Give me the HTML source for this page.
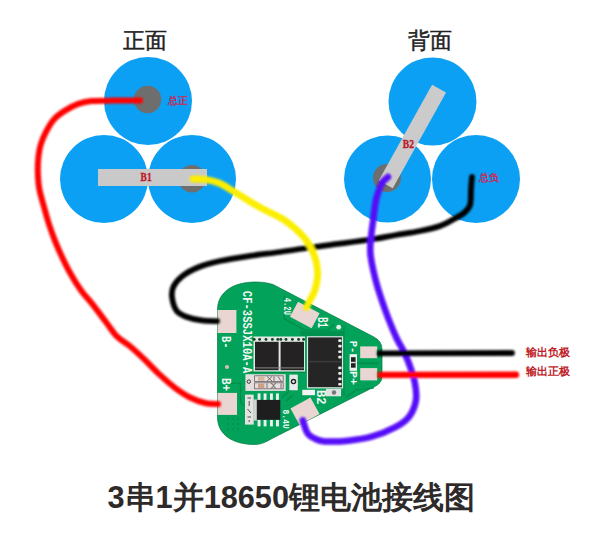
<!DOCTYPE html>
<html><head><meta charset="utf-8">
<style>
html,body{margin:0;padding:0;background:#fff;width:600px;height:540px;overflow:hidden}
svg{display:block}
text{font-family:"Liberation Sans",sans-serif}
.mono text{font-family:"Liberation Mono",monospace}
.serif{font-family:"Liberation Serif",serif}
</style></head><body>
<svg width="600" height="540" viewBox="0 0 600 540">
<defs>
<filter id="bl" x="-10%" y="-10%" width="120%" height="120%"><feGaussianBlur stdDeviation="0.9"/></filter>
</defs>
<text x="144.5" y="48.3" font-size="21.5" text-anchor="middle" fill="#222" stroke="#222" stroke-width="0.45">正面</text>
<text x="430.2" y="47.8" font-size="21.5" text-anchor="middle" fill="#222" stroke="#222" stroke-width="0.45">背面</text>

<g fill="#0ca0f4">
<circle cx="148" cy="101" r="44"/>
<circle cx="104" cy="179" r="44"/>
<circle cx="192" cy="179" r="44"/>
</g>
<circle cx="147.6" cy="99.5" r="13.7" fill="#6e6e6e"/>
<circle cx="192" cy="178.8" r="13.7" fill="#6e6e6e"/>
<rect x="98" y="169" width="109" height="17" fill="#c9c9c9"/>
<text x="140.6" y="181.3" font-size="11.5" font-weight="bold" fill="#bc1a2c" class="serif" stroke="#bc1a2c" stroke-width="0.35" textLength="11" lengthAdjust="spacingAndGlyphs">B1</text>
<text x="177.5" y="103.5" font-size="10" font-weight="bold" text-anchor="middle" fill="#c82858">总正</text>

<g fill="#0ca0f4">
<circle cx="432.5" cy="101.5" r="44"/>
<circle cx="387.5" cy="179" r="43.5"/>
<circle cx="476" cy="179" r="44"/>
</g>
<circle cx="387" cy="178" r="14" fill="#6e6e6e"/>
<rect x="-8" y="0" width="16" height="109.6" fill="#cbcbcb" transform="translate(439.05,88.7) rotate(29.1)"/>
<text x="402.8" y="148.3" font-size="11.5" font-weight="bold" fill="#bc1a2c" class="serif" stroke="#bc1a2c" stroke-width="0.35" textLength="11.2" lengthAdjust="spacingAndGlyphs">B2</text>
<text x="488.5" y="181" font-size="10" font-weight="bold" text-anchor="middle" fill="#c82858">总负</text>

<path d="M217.5,310 C217.5,292 233,282 256,282 C263,282 268,283 273,284.5 L373,336.5 Q382,341 382,349 L382,377 Q382,383 374,387 L272,438.5 C266,442 261,444.5 255,444.5 C233,444.5 217.5,435 217.5,417 Z" fill="#02a25a" stroke="#007a40" stroke-width="0.7"/>
<g fill="#00924e">
<path d="M300,331 L344,331 L344,336 L300,336 Z"/>
<path d="M356,362 L378,362 L378,364.5 L356,364.5 Z"/>
</g>
<g fill="none" stroke="#008a48" stroke-width="1.1">
<path d="M284.2,296 L284.2,318.7 L304.5,330 L328.5,330 L334,324.5"/>
<path d="M344,326.5 L344,396"/>
<path d="M230.8,383.2 L240.5,383.2 L240.5,402.5 L244,406"/>
<path d="M282,397.5 L289,391 L300,387.5"/>
<path d="M286,401 L293,395"/>
<path d="M243,372.5 L305,372.5"/>
<path d="M346,397 L356,390 L374,388"/>
</g>
<g fill="#007f40"><circle cx="228" cy="419" r="0.7"/><circle cx="233" cy="419" r="0.7"/><circle cx="238" cy="419" r="0.7"/><circle cx="228" cy="424" r="0.7"/><circle cx="233" cy="424" r="0.7"/><circle cx="238" cy="424" r="0.7"/><circle cx="228" cy="429" r="0.7"/><circle cx="233" cy="429" r="0.7"/><circle cx="238" cy="429" r="0.7"/><circle cx="358" cy="385" r="0.6"/><circle cx="363" cy="386" r="0.6"/><circle cx="368" cy="384" r="0.6"/><circle cx="360" cy="381" r="0.6"/><circle cx="366" cy="380" r="0.6"/><circle cx="372" cy="379" r="0.6"/></g>
<g fill="#e9d6d3">
<rect x="217.6" y="310" width="18.8" height="23" />
<rect x="217.6" y="392.9" width="19.4" height="22" />
<rect x="360.2" y="346.4" width="17" height="11.8" />
<rect x="360.2" y="368.1" width="17" height="12.3" />
<rect x="-12.3" y="-8.5" width="24.6" height="17" transform="translate(304.8,315) rotate(28.4)"/>
<rect x="-11.4" y="-9.4" width="22.8" height="18.8" transform="translate(305,411.3) rotate(-28.8)"/>
</g>
<rect x="253.5" y="336.5" width="51.5" height="35" fill="#e2e9e4"/>
<rect x="255" y="341.8" width="23.6" height="28.4" fill="#242222"/>
<rect x="280.6" y="341.8" width="23.4" height="28.4" fill="#242222"/>
<rect x="255" y="367.4" width="49" height="1" fill="#8a8a8a"/>
<g fill="#163d2a"><circle cx="254.2" cy="339.4" r="1.45"/><circle cx="259.6" cy="339.4" r="1.45"/><circle cx="266" cy="339.4" r="1.45"/><circle cx="272.4" cy="339.4" r="1.45"/><circle cx="277.8" cy="339.4" r="1.45"/><circle cx="280.8" cy="339.4" r="1.45"/><circle cx="286" cy="339.4" r="1.45"/><circle cx="292.4" cy="339.4" r="1.45"/><circle cx="298.6" cy="339.4" r="1.45"/><circle cx="303.6" cy="339.4" r="1.45"/></g>
<rect x="307.5" y="336.8" width="35" height="51" fill="#252525" stroke="#dce6e0" stroke-width="1.2"/>
<line x1="308" y1="361.6" x2="342" y2="361.6" stroke="#3a3a3a" stroke-width="1.6"/>
<g fill="#e6ece8"><rect x="338.2" y="339.2" width="3.4" height="2.7" rx="1"/><rect x="338.2" y="344.8" width="3.4" height="2.7" rx="1"/><rect x="338.2" y="350.4" width="3.4" height="2.7" rx="1"/><rect x="338.2" y="355.8" width="3.4" height="2.7" rx="1"/><rect x="338.2" y="366.6" width="3.4" height="2.7" rx="1"/><rect x="338.2" y="372.1" width="3.4" height="2.7" rx="1"/><rect x="338.2" y="377.5" width="3.4" height="2.7" rx="1"/><rect x="338.2" y="382.9" width="3.4" height="2.7" rx="1"/></g>
<rect x="245.4" y="374.2" width="40.3" height="16.7" fill="#e4dede" />
<circle cx="248.8" cy="381.6" r="1.7" fill="none" stroke="#3a3434" stroke-width="1"/>
<rect x="254.6" y="375.8" width="28.6" height="5.8" fill="none" stroke="#6a6262" stroke-width="0.8"/>
<rect x="254.6" y="382.8" width="28.6" height="6" fill="none" stroke="#6a6262" stroke-width="0.8"/>
<rect x="258" y="376.6" width="6.4" height="4.2" fill="#d9b49c" />
<rect x="258" y="383.6" width="6.4" height="4.4" fill="#cfa088" />
<path d="M267,376.5 L272,381 M272,376.5 L267,381 M274,376.5 L274,381 M278,376.5 L281,381 M267,383.5 L267,388 M271,383.5 A2,2 0 1 1 271,388 M276,383.5 A2,2 0 1 0 276,388 M281,383.5 L281,388" stroke="#5a5050" stroke-width="0.8" fill="none"/>
<rect x="289.3" y="374.6" width="8.5" height="15.7" fill="#e6eae8" />
<circle cx="293.5" cy="381.6" r="2.1" fill="none" stroke="#222" stroke-width="1.3"/>
<rect x="245" y="394.6" width="8.7" height="30" fill="#e6e2e2" />
<path d="M247.5,398 L251,398 M249.2,401 L249.2,406 M247.5,409 L251,413 M247.5,417 L251,417 M249.2,420 L249.2,422" stroke="#554c4c" stroke-width="1" fill="none"/>
<rect x="253.5" y="399.5" width="3.6" height="21" fill="#cfd6d2" />
<g fill="#eceeed"><rect x="257.6" y="393.4" width="2.9" height="6.8"/><rect x="257.6" y="419.7" width="2.9" height="6.7"/><rect x="263.6" y="393.4" width="2.9" height="6.8"/><rect x="263.6" y="419.7" width="2.9" height="6.7"/><rect x="270" y="393.4" width="2.9" height="6.8"/><rect x="270" y="419.7" width="2.9" height="6.7"/><rect x="276" y="393.4" width="2.9" height="6.8"/><rect x="276" y="419.7" width="2.9" height="6.7"/></g>
<rect x="256.8" y="399.9" width="23.5" height="19.9" fill="#1e1e1e" />
<rect x="302.3" y="389.8" width="12.7" height="5.4" fill="#f4f4f4" />
<rect x="326" y="388.8" width="15" height="7.5" fill="#dfe3e1" />
<circle cx="334" cy="392.5" r="2.2" fill="#777"/>
<rect x="349.6" y="354.2" width="7.4" height="16.6" fill="#f2f2f2" />
<rect x="351" y="357.2" width="4.6" height="10.5" fill="#202020" />
<rect x="351" y="361.8" width="4.6" height="1.4" fill="#e0e0e0" />
<circle cx="338.7" cy="327.2" r="2.4" fill="#e9f1ec"/>
<circle cx="227" cy="367" r="2.1" fill="#d6bdbd"/>
<g fill="#f0f7f2" font-weight="bold" class="mono"><text transform="translate(242.6,290.8) rotate(90)" font-size="12.3" textLength="82.5" lengthAdjust="spacingAndGlyphs" >CF-3SSJX10A-A</text><text transform="translate(222,336) rotate(90)" font-size="12.3" textLength="12.7" lengthAdjust="spacingAndGlyphs" >B-</text><text transform="translate(222,377.9) rotate(90)" font-size="12" textLength="13.2" lengthAdjust="spacingAndGlyphs" >B+</text><text transform="translate(284.2,297.7) rotate(90)" font-size="10" textLength="17.3" lengthAdjust="spacingAndGlyphs" >4.2U</text><text transform="translate(318,317.2) rotate(90)" font-size="15.3" textLength="10.5" lengthAdjust="spacingAndGlyphs" >B1</text><text transform="translate(282.7,409.5) rotate(90)" font-size="9.8" textLength="19.3" lengthAdjust="spacingAndGlyphs" >8.4U</text><text transform="translate(316.5,390) rotate(90)" font-size="12.6" textLength="14.5" lengthAdjust="spacingAndGlyphs" >B2</text><text transform="translate(349.8,340.7) rotate(90)" font-size="10.3" textLength="12.6" lengthAdjust="spacingAndGlyphs" >P-</text><text transform="translate(349.8,371) rotate(90)" font-size="10.3" textLength="14.2" lengthAdjust="spacingAndGlyphs" >P+</text></g>
<g fill="none" stroke-linejoin="round" filter="url(#bl)">
<path d="M140.0,100.6 C135.7,100.6 122.0,100.5 113.9,100.6 C105.9,100.7 97.6,100.5 91.7,101.0 C85.8,101.5 82.8,102.3 78.3,103.9 C73.8,105.5 69.1,108.0 65.0,110.6 C60.9,113.2 57.0,115.9 53.9,119.4 C50.8,122.9 48.3,127.4 46.1,131.7 C43.9,136.0 41.9,140.6 40.6,145.0 C39.3,149.4 38.8,153.5 38.3,158.3 C37.8,163.1 37.7,168.7 37.9,173.9 C38.1,179.1 38.3,183.7 39.4,189.4 C40.5,195.1 42.8,202.6 44.4,208.3 C46.0,214.1 47.2,218.7 48.9,223.9 C50.6,229.1 52.4,234.2 54.4,239.4 C56.4,244.6 58.5,249.4 61.1,255.0 C63.7,260.6 66.7,266.9 70.0,272.8 C73.3,278.7 77.4,285.4 81.1,290.6 C84.8,295.8 88.0,298.6 92.2,303.9 C96.4,309.2 101.9,316.7 106.1,322.2 C110.3,327.7 113.1,332.6 117.2,336.7 C121.3,340.8 126.1,343.0 130.6,346.7 C135.0,350.4 139.1,354.3 143.9,358.9 C148.7,363.5 154.2,369.6 159.4,374.4 C164.6,379.2 169.8,383.9 175.0,387.8 C180.2,391.7 185.4,395.2 190.6,397.8 C195.8,400.4 201.5,402.3 206.1,403.3 C210.7,404.3 216.0,403.9 218.0,404.0" stroke="#ff0000" stroke-width="6" stroke-linecap="round"/>
<path d="M217.0,321.1 C214.4,321.0 206.8,321.1 201.7,320.4 C196.5,319.7 190.3,318.3 186.1,316.7 C181.9,315.1 178.8,313.9 176.5,310.6 C174.2,307.3 172.5,301.0 172.0,297.0 C171.5,293.0 171.8,290.1 173.5,286.6 C175.2,283.1 178.2,279.3 182.5,276.0 C186.8,272.7 192.8,269.5 199.0,267.0 C205.2,264.5 211.5,262.9 220.0,261.0 C228.5,259.1 240.0,257.4 250.0,255.9 C260.0,254.4 270.0,253.4 280.0,252.0 C290.0,250.6 300.0,248.9 310.0,247.5 C320.0,246.1 329.3,245.0 340.0,243.6 C350.7,242.2 364.7,240.4 374.0,239.0 C383.3,237.6 388.3,236.3 396.0,235.0 C403.7,233.7 412.7,232.5 420.0,231.0 C427.3,229.5 434.3,228.0 440.0,226.0 C445.7,224.0 450.0,221.2 454.0,219.0 C458.0,216.8 461.3,215.3 464.0,213.0 C466.7,210.7 468.8,209.0 470.0,205.0 C471.2,201.0 470.7,193.7 471.0,189.0 C471.3,184.3 471.8,179.0 472.0,177.0" stroke="#000" stroke-width="5.8" stroke-linecap="round"/>
<path d="M193.0,179.0 C195.0,179.1 200.7,178.7 205.0,179.4 C209.3,180.1 214.3,181.1 219.0,183.0 C223.7,184.9 228.0,188.0 233.0,191.0 C238.0,194.0 243.7,197.8 249.0,201.0 C254.3,204.2 259.7,207.2 265.0,210.0 C270.3,212.8 276.7,215.5 281.0,218.0 C285.3,220.5 287.7,222.3 291.0,225.0 C294.3,227.7 297.8,230.5 301.0,234.0 C304.2,237.5 307.5,241.5 310.0,246.0 C312.5,250.5 314.7,256.0 316.0,261.0 C317.3,266.0 317.8,271.0 317.6,276.0 C317.4,281.0 316.0,286.7 314.6,291.0 C313.2,295.3 310.4,299.2 309.0,302.0 C307.6,304.8 306.9,306.6 306.5,307.5" stroke="#fbee00" stroke-width="6.8" stroke-linecap="round"/>
<path d="M388.0,177.0 C387.0,178.0 383.7,180.3 382.0,183.0 C380.3,185.7 379.0,190.2 378.0,193.0 C377.0,195.8 376.6,197.0 376.0,200.0 C375.4,203.0 374.8,207.3 374.3,211.0 C373.8,214.7 373.5,218.3 373.0,222.0 C372.5,225.7 371.9,229.0 371.5,233.0 C371.1,237.0 370.4,242.2 370.3,246.0 C370.2,249.8 370.1,251.5 370.6,255.6 C371.1,259.7 372.2,265.5 373.3,270.4 C374.4,275.3 375.6,280.3 377.0,285.2 C378.4,290.1 379.8,294.3 381.7,300.0 C383.6,305.7 386.2,313.1 388.7,319.4 C391.2,325.7 394.2,333.1 396.5,338.0 C398.8,342.9 400.4,344.8 402.5,349.0 C404.6,353.2 406.9,357.8 408.9,363.3 C410.9,368.8 413.5,375.8 414.7,382.0 C415.9,388.2 416.9,394.8 415.9,400.6 C414.9,406.4 412.4,412.4 408.9,416.9 C405.4,421.4 401.1,424.1 394.9,427.4 C388.7,430.7 379.4,434.5 371.6,436.7 C363.8,438.9 356.1,439.9 348.3,440.7 C340.5,441.5 330.4,441.7 325.0,441.4 C319.6,441.1 318.5,440.4 315.6,439.0 C312.7,437.6 309.6,436.3 307.5,433.2 C305.4,430.1 303.6,422.5 302.8,420.4" stroke="#5508f8" stroke-width="6.5" stroke-linecap="round"/>
<path d="M377,353.3 L512,353" stroke="#000" stroke-width="5.8" stroke-linecap="butt"/><circle cx="512" cy="353" r="2.9" fill="#000"/>
<path d="M377.5,374.9 L516,374.8" stroke="#ff0000" stroke-width="6.4" stroke-linecap="butt"/><circle cx="516" cy="374.8" r="3.2" fill="#ff0000"/>
</g>

<text x="526.3" y="355.8" font-size="11" fill="#c01e2a" font-weight="bold">输出负极</text>
<text x="526.3" y="375.4" font-size="11" fill="#c01e2a" font-weight="bold">输出正极</text>

<text x="107.5" y="507.5" font-size="30.7" font-weight="bold" fill="#2e2a2a">3串1并18650锂电池接线图</text>
</svg>
</body></html>
